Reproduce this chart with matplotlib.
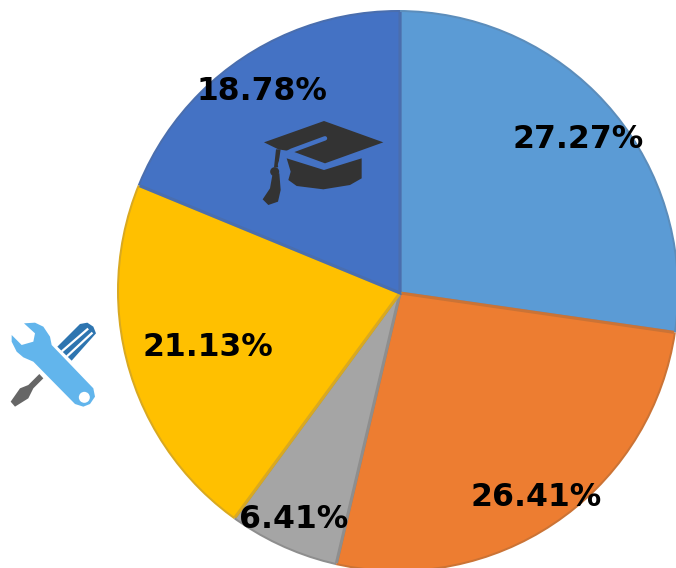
import matplotlib
matplotlib.use("Agg")
import matplotlib.pyplot as plt
from matplotlib.patches import Polygon, Circle
import numpy as np

labels = ["27.27%", "26.41%", "6.41%", "21.13%", "18.78%"]
values = [27.27, 26.41, 6.41, 21.13, 18.78]
colors = ["#5B9BD5", "#ED7D31", "#A5A5A5", "#FFC000", "#4472C4"]
edges = ["#5C8DBB", "#CB7335", "#8E8E8E", "#D9A920", "#4A6EAE"]
label_px = [(578, 139), (536, 497), (294, 519), (208, 348), (262, 92)]

W, H = 676, 568
fig = plt.figure(figsize=(W/100, H/100), dpi=100)
ax = fig.add_axes([0, 0, 1, 1])
ax.set_xlim(0, W)
ax.set_ylim(H, 0)
ax.axis("off")

# The slices meet at (400, 293), slightly off the centre of the round outline.
R = 295
cx, cy = 400, 293
pie_ax = fig.add_axes([(cx-R)/W, 1-(cy+R)/H, 2*R/W, 2*R/H])
under, _ = pie_ax.pie(values, colors=edges, startangle=90, counterclock=False, radius=1,
                      wedgeprops=dict(linewidth=0))
over, _ = pie_ax.pie(values, colors=colors, startangle=90, counterclock=False, radius=1,
                     wedgeprops=dict(linewidth=2.2))
pie_ax.set_xlim(-1, 1); pie_ax.set_ylim(-1, 1)
pie_ax.set_zorder(1)
ax.set_zorder(2)
ax.patch.set_alpha(0)
clip_under = Circle((398, 291), 281, transform=ax.transData)
clip_over = Circle((398, 291), 279, transform=ax.transData)
for w in under:
    w.set_clip_on(True)
    w.set_clip_box(None)
    w.set_clip_path(clip_under)
for w, e in zip(over, edges):
    w.set_edgecolor(e)
    w.set_clip_on(True)
    w.set_clip_box(None)
    w.set_clip_path(clip_over)

for t, (x, y) in zip(labels, label_px):
    ax.text(x, y, t, ha="center", va="center", fontsize=22.7, fontweight="bold",
            family="DejaVu Sans", color="#000000", zorder=10)

def poly(pts, ox, oy, **kw):
    ax.add_patch(Polygon([(ox + a/3, oy + b/3) for a, b in pts], closed=True, ec="none", **kw))

def line(pts, ox, oy, **kw):
    ax.plot([ox + a/3 for a, b in pts], [oy + b/3 for a, b in pts], **kw)

# graduation cap icon
dark = "#333333"
capblue = "#4472C4"
ox, oy = 250, 110
poly([(222,33),(400,97),(225,160),(130,125),(85,118),(42,97)], ox, oy, fc=dark)
line([(225,85),(125,122),(100,135),(90,165)], ox, oy, color=capblue, lw=3.2, solid_capstyle="round")
poly([(110,145),(222,180),(335,145),(335,205),(300,225),(220,238),(140,228),(115,210),(122,185)], ox, oy, fc=dark)
poly([(78,118),(92,118),(84,172),(72,172)], ox, oy, fc=dark)
ax.add_patch(Circle((ox+74/3, oy+185/3), 4.5, fc=dark, ec="none"))
poly([(68,190),(88,190),(92,240),(84,275),(55,285),(38,268),(60,235)], ox, oy, fc=dark)

# tools icon
ox, oy = 0, 300
poly([(172,140),(240,72),(262,68),(280,80),(288,100),(215,182)], ox, oy, fc="#2E75B0")
line([(188,152),(262,88)], ox, oy, color="white", lw=1.6)
line([(203,167),(275,100)], ox, oy, color="white", lw=1.6)
poly([(130,235),(118,222),(85,255),(60,265),(32,305),(45,320),(85,295),(100,265)], ox, oy, fc="#666666")
poly([(72,70),(105,68),(130,80),(150,110),(155,135),(280,265),(285,290),(270,312),(250,320),
      (225,312),(100,185),(70,172),(50,155),(35,125),(35,105),(65,135),(100,125),(105,100)],
     ox, oy, fc="#62B5EC")
ax.add_patch(Circle((253/3, 300+292/3), 5.5, fc="white", ec="none"))

fig.savefig("out.png", dpi=100)
